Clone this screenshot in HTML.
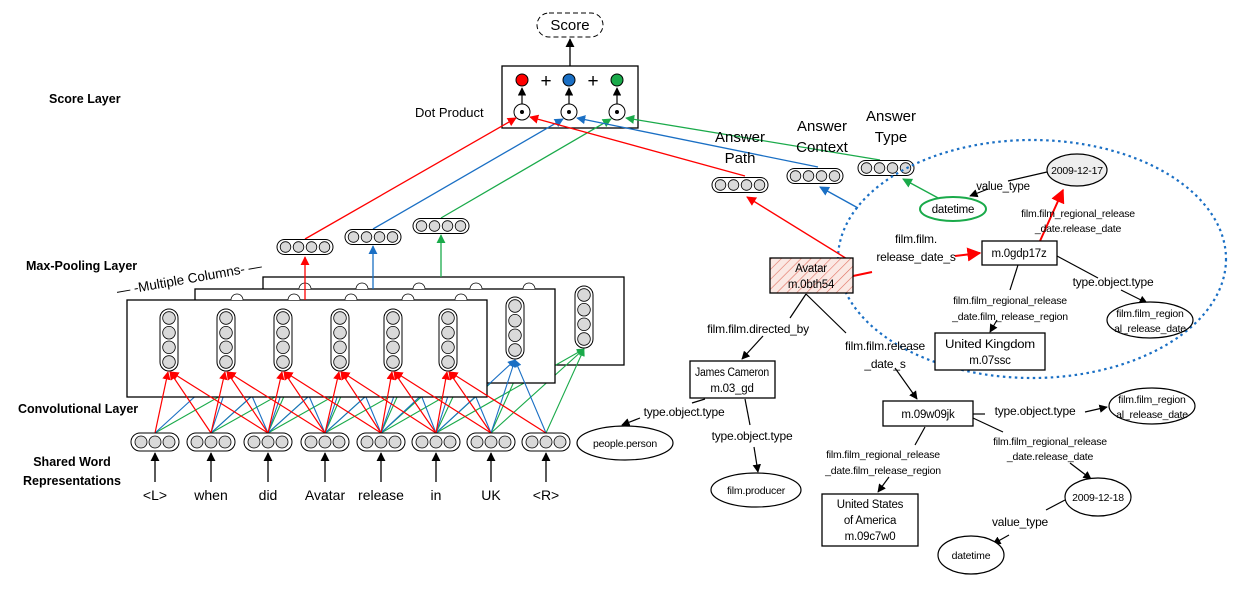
<!DOCTYPE html>
<html><head><meta charset="utf-8"><style>
html,body{margin:0;padding:0;background:#fff;}
svg{display:block;font-family:"Liberation Sans",sans-serif;}
.b{font-weight:bold;font-size:12.5px;}
.t{font-size:13px;}
.s{font-size:10.5px;letter-spacing:-0.2px;}
.m{font-size:11.5px;letter-spacing:-0.2px;}
.l{font-size:12px;letter-spacing:-0.2px;}
</style></head><body>
<svg width="1242" height="593" viewBox="0 0 1242 593" xmlns="http://www.w3.org/2000/svg">
<defs>
<marker id="ak" viewBox="0 0 10 10" refX="9" refY="5" markerWidth="7" markerHeight="7" orient="auto-start-reverse"><path d="M0,0L10,5L0,10z" fill="#000"/></marker>
<marker id="ar" viewBox="0 0 10 10" refX="9" refY="5" markerWidth="7" markerHeight="7" orient="auto"><path d="M0,0L10,5L0,10z" fill="#f00"/></marker>
<marker id="ab" viewBox="0 0 10 10" refX="9" refY="5" markerWidth="7" markerHeight="7" orient="auto"><path d="M0,0L10,5L0,10z" fill="#1a6fc4"/></marker>
<marker id="ag" viewBox="0 0 10 10" refX="9" refY="5" markerWidth="7" markerHeight="7" orient="auto"><path d="M0,0L10,5L0,10z" fill="#1aaa4a"/></marker>
<g id="h4"><rect x="-28" y="-7.5" width="56" height="15" rx="7.5" fill="#fff" stroke="#000" stroke-width="1"/><circle cx="-19.5" r="5.3" fill="#d9d9d9" stroke="#000" stroke-width=".8"/><circle cx="-6.5" r="5.3" fill="#d9d9d9" stroke="#000" stroke-width=".8"/><circle cx="6.5" r="5.3" fill="#d9d9d9" stroke="#000" stroke-width=".8"/><circle cx="19.5" r="5.3" fill="#d9d9d9" stroke="#000" stroke-width=".8"/></g>
<g id="h3"><rect x="-24" y="-9" width="48" height="18" rx="9" fill="#fff" stroke="#000" stroke-width="1"/><circle cx="-14" r="6" fill="#d9d9d9" stroke="#000" stroke-width=".8"/><circle cx="0" r="6" fill="#d9d9d9" stroke="#000" stroke-width=".8"/><circle cx="14" r="6" fill="#d9d9d9" stroke="#000" stroke-width=".8"/></g>
<g id="v4"><rect x="-9" y="-31" width="18" height="62" rx="9" fill="#fff" stroke="#000" stroke-width="1"/><circle cy="-22" r="6.3" fill="#d9d9d9" stroke="#000" stroke-width=".8"/><circle cy="-7.3" r="6.3" fill="#d9d9d9" stroke="#000" stroke-width=".8"/><circle cy="7.3" r="6.3" fill="#d9d9d9" stroke="#000" stroke-width=".8"/><circle cy="22" r="6.3" fill="#d9d9d9" stroke="#000" stroke-width=".8"/></g>
<pattern id="hatch" width="7" height="7" patternUnits="userSpaceOnUse" patternTransform="rotate(45)"><rect width="7" height="7" fill="#fbe9e4"/><line x1="0" y1="0" x2="0" y2="7" stroke="#e07060" stroke-width="1.2"/></pattern>
</defs>

<!-- Score -->
<rect x="537" y="13" width="66" height="24" rx="12" fill="#fff" stroke="#000" stroke-dasharray="5,3"/>
<text x="570" y="30" text-anchor="middle" style="font-size:15px">Score</text>
<line x1="570" y1="66" x2="570" y2="39" stroke="#000" stroke-width="1.3" marker-end="url(#ak)"/>
<rect x="502" y="66" width="136" height="62" fill="#fff" stroke="#000" stroke-width="1.3"/>
<circle cx="522" cy="80" r="6" fill="#f00" stroke="#000"/>
<circle cx="569" cy="80" r="6" fill="#1a6fc4" stroke="#000"/>
<circle cx="617" cy="80" r="6" fill="#1aaa4a" stroke="#000"/>
<text x="546" y="87" text-anchor="middle" style="font-size:19px">+</text>
<text x="593" y="87" text-anchor="middle" style="font-size:19px">+</text>
<g fill="#fff" stroke="#000">
<circle cx="522" cy="112" r="8"/><circle cx="569" cy="112" r="8"/><circle cx="617" cy="112" r="8"/></g>
<circle cx="522" cy="112" r="2" fill="#000"/><circle cx="569" cy="112" r="2" fill="#000"/><circle cx="617" cy="112" r="2" fill="#000"/>
<g stroke="#000" stroke-width="1.2"><line x1="522" y1="104" x2="522" y2="88" marker-end="url(#ak)"/><line x1="569" y1="104" x2="569" y2="88" marker-end="url(#ak)"/><line x1="617" y1="104" x2="617" y2="88" marker-end="url(#ak)"/></g>
<text x="415" y="117" class="t">Dot Product</text>

<text x="49" y="103" class="b">Score Layer</text>
<text x="26" y="270" class="b">Max-Pooling Layer</text>
<text x="18" y="413" class="b">Convolutional Layer</text>
<text x="72" y="466" class="b" text-anchor="middle">Shared Word</text>
<text x="72" y="485" class="b" text-anchor="middle">Representations</text>
<text x="190" y="283" text-anchor="middle" transform="rotate(-10 190 283)" style="font-size:13.5px">— -Multiple Columns- —</text>

<!-- lines to dot product -->
<g stroke-width="1.3" fill="none">
<line x1="305" y1="239" x2="516" y2="118" stroke="#f00" marker-end="url(#ar)"/>
<line x1="373" y1="229" x2="563" y2="119" stroke="#1a6fc4" marker-end="url(#ab)"/>
<line x1="441" y1="218" x2="611" y2="119" stroke="#1aaa4a" marker-end="url(#ag)"/>
<line x1="745" y1="176" x2="530" y2="117" stroke="#f00" marker-end="url(#ar)"/>
<line x1="818" y1="167" x2="577" y2="118" stroke="#1a6fc4" marker-end="url(#ab)"/>
<line x1="880" y1="160" x2="626" y2="118" stroke="#1aaa4a" marker-end="url(#ag)"/>
</g>
<use href="#h4" x="305" y="247"/>
<use href="#h4" x="373" y="237"/>
<use href="#h4" x="441" y="226"/>

<!-- back frame -->
<rect x="263" y="277" width="361" height="88" fill="#fff" stroke="#000" stroke-width="1.3"/>
<g stroke="#1aaa4a" stroke-width="1.1">
<line x1="155" y1="433" x2="305" y2="348"/><line x1="211" y1="433" x2="305" y2="348"/><line x1="268" y1="433" x2="305" y2="348"/>
<line x1="211" y1="433" x2="362" y2="348"/><line x1="268" y1="433" x2="362" y2="348"/><line x1="325" y1="433" x2="362" y2="348"/>
<line x1="268" y1="433" x2="419" y2="348"/><line x1="325" y1="433" x2="419" y2="348"/><line x1="381" y1="433" x2="419" y2="348"/>
<line x1="325" y1="433" x2="476" y2="348"/><line x1="381" y1="433" x2="476" y2="348"/><line x1="436" y1="433" x2="476" y2="348"/>
<line x1="381" y1="433" x2="529" y2="348"/><line x1="436" y1="433" x2="529" y2="348"/><line x1="491" y1="433" x2="529" y2="348"/>
<line x1="436" y1="433" x2="584" y2="349" marker-end="url(#ag)"/><line x1="491" y1="433" x2="584" y2="349" marker-end="url(#ag)"/><line x1="546" y1="433" x2="584" y2="349" marker-end="url(#ag)"/>
</g>
<use href="#v4" x="584" y="317"/>
<line x1="441" y1="277" x2="441" y2="235" stroke="#1aaa4a" stroke-width="1.3" marker-end="url(#ag)"/>

<!-- middle frame -->
<rect x="195" y="289" width="360" height="94" fill="#fff" stroke="#000" stroke-width="1.3"/>
<g fill="#fff" stroke="#000" stroke-width=".8"><path d="M299,289a6,6 0 0 1 12,0"/><path d="M356,289a6,6 0 0 1 12,0"/><path d="M413,289a6,6 0 0 1 12,0"/><path d="M470,289a6,6 0 0 1 12,0"/><path d="M523,289a6,6 0 0 1 12,0"/></g>
<g stroke="#1a6fc4" stroke-width="1.1">
<line x1="155" y1="433" x2="236" y2="359"/><line x1="211" y1="433" x2="236" y2="359"/><line x1="268" y1="433" x2="236" y2="359"/>
<line x1="211" y1="433" x2="293" y2="359"/><line x1="268" y1="433" x2="293" y2="359"/><line x1="325" y1="433" x2="293" y2="359"/>
<line x1="268" y1="433" x2="350" y2="359"/><line x1="325" y1="433" x2="350" y2="359"/><line x1="381" y1="433" x2="350" y2="359"/>
<line x1="325" y1="433" x2="407" y2="359"/><line x1="381" y1="433" x2="407" y2="359"/><line x1="436" y1="433" x2="407" y2="359"/>
<line x1="381" y1="433" x2="460" y2="359"/><line x1="436" y1="433" x2="460" y2="359"/><line x1="491" y1="433" x2="460" y2="359"/>
<line x1="436" y1="433" x2="515" y2="360" marker-end="url(#ab)"/><line x1="491" y1="433" x2="515" y2="360" marker-end="url(#ab)"/><line x1="546" y1="433" x2="515" y2="360" marker-end="url(#ab)"/>
</g>
<use href="#v4" x="515" y="328"/>
<line x1="373" y1="289" x2="373" y2="246" stroke="#1a6fc4" stroke-width="1.3" marker-end="url(#ab)"/>

<!-- front frame -->
<rect x="127" y="300" width="360" height="97" fill="#fff" stroke="#000" stroke-width="1.3"/>
<g fill="#fff" stroke="#000" stroke-width=".8"><path d="M231,300a6,6 0 0 1 12,0"/><path d="M288,300a6,6 0 0 1 12,0"/><path d="M345,300a6,6 0 0 1 12,0"/><path d="M402,300a6,6 0 0 1 12,0"/><path d="M455,300a6,6 0 0 1 12,0"/></g>
<use href="#v4" x="169" y="340"/><use href="#v4" x="226" y="340"/><use href="#v4" x="283" y="340"/>
<use href="#v4" x="340" y="340"/><use href="#v4" x="393" y="340"/><use href="#v4" x="448" y="340"/>
<line x1="305" y1="300" x2="305" y2="257" stroke="#f00" stroke-width="1.3" marker-end="url(#ar)"/>
<g stroke="#f00" stroke-width="1.2">
<line x1="155" y1="433" x2="168" y2="372" marker-end="url(#ar)"/><line x1="211" y1="433" x2="170" y2="372" marker-end="url(#ar)"/><line x1="268" y1="433" x2="171" y2="372" marker-end="url(#ar)"/>
<line x1="211" y1="433" x2="225" y2="372" marker-end="url(#ar)"/><line x1="268" y1="433" x2="227" y2="372" marker-end="url(#ar)"/><line x1="325" y1="433" x2="228" y2="372" marker-end="url(#ar)"/>
<line x1="268" y1="433" x2="282" y2="372" marker-end="url(#ar)"/><line x1="325" y1="433" x2="284" y2="372" marker-end="url(#ar)"/><line x1="381" y1="433" x2="285" y2="372" marker-end="url(#ar)"/>
<line x1="325" y1="433" x2="339" y2="372" marker-end="url(#ar)"/><line x1="381" y1="433" x2="341" y2="372" marker-end="url(#ar)"/><line x1="436" y1="433" x2="342" y2="372" marker-end="url(#ar)"/>
<line x1="381" y1="433" x2="392" y2="372" marker-end="url(#ar)"/><line x1="436" y1="433" x2="394" y2="372" marker-end="url(#ar)"/><line x1="491" y1="433" x2="395" y2="372" marker-end="url(#ar)"/>
<line x1="436" y1="433" x2="447" y2="372" marker-end="url(#ar)"/><line x1="491" y1="433" x2="449" y2="372" marker-end="url(#ar)"/><line x1="546" y1="433" x2="450" y2="372" marker-end="url(#ar)"/>
</g>

<!-- word vectors -->
<use href="#h3" x="155" y="442"/><use href="#h3" x="211" y="442"/><use href="#h3" x="268" y="442"/><use href="#h3" x="325" y="442"/>
<use href="#h3" x="381" y="442"/><use href="#h3" x="436" y="442"/><use href="#h3" x="491" y="442"/><use href="#h3" x="546" y="442"/>
<g stroke="#000" stroke-width="1.3">
<line x1="155" y1="482" x2="155" y2="453" marker-end="url(#ak)"/><line x1="211" y1="482" x2="211" y2="453" marker-end="url(#ak)"/>
<line x1="268" y1="482" x2="268" y2="453" marker-end="url(#ak)"/><line x1="325" y1="482" x2="325" y2="453" marker-end="url(#ak)"/>
<line x1="381" y1="482" x2="381" y2="453" marker-end="url(#ak)"/><line x1="436" y1="482" x2="436" y2="453" marker-end="url(#ak)"/>
<line x1="491" y1="482" x2="491" y2="453" marker-end="url(#ak)"/><line x1="546" y1="482" x2="546" y2="453" marker-end="url(#ak)"/>
</g>
<g style="font-size:14px" text-anchor="middle">
<text x="155" y="500">&lt;L&gt;</text><text x="211" y="500">when</text><text x="268" y="500">did</text><text x="325" y="500">Avatar</text>
<text x="381" y="500">release</text><text x="436" y="500">in</text><text x="491" y="500">UK</text><text x="546" y="500">&lt;R&gt;</text></g>

<!-- answer vectors -->
<g style="font-size:15px" text-anchor="middle">
<text x="740" y="142">Answer</text><text x="740" y="163">Path</text>
<text x="822" y="131">Answer</text><text x="822" y="152">Context</text>
<text x="891" y="121">Answer</text><text x="891" y="142">Type</text></g>
<use href="#h4" x="740" y="185"/>
<use href="#h4" x="815" y="176"/>
<use href="#h4" x="886" y="168"/>

<!-- dashed ellipse -->
<ellipse cx="1032" cy="259" rx="194" ry="119" fill="none" stroke="#1a6fc4" stroke-width="2.2" stroke-dasharray="2.5,3.5"/>

<!-- KB graph -->
<g stroke-width="1.4" fill="none">
<line x1="852" y1="262" x2="747" y2="197" stroke="#f00" marker-end="url(#ar)"/>
<line x1="858" y1="208" x2="820" y2="187" stroke="#1a6fc4" marker-end="url(#ab)"/>
<line x1="940" y1="199" x2="903" y2="179" stroke="#1aaa4a" marker-end="url(#ag)"/>
<line x1="853" y1="276" x2="872" y2="272" stroke="#f00" stroke-width="2"/>
<line x1="955" y1="256" x2="980" y2="253" stroke="#f00" stroke-width="2" marker-end="url(#ar)"/>
<line x1="1040" y1="241" x2="1063" y2="190" stroke="#f00" stroke-width="2" marker-end="url(#ar)"/>
</g>
<g stroke="#000" stroke-width="1.2" fill="none">
<line x1="1047" y1="172" x2="1008" y2="181"/>
<line x1="988" y1="189" x2="970" y2="196" marker-end="url(#ak)"/>
<line x1="1057" y1="256" x2="1098" y2="278"/>
<line x1="1121" y1="290" x2="1147" y2="303" marker-end="url(#ak)"/>
<line x1="1018" y1="265" x2="1010" y2="290"/>
<line x1="997" y1="320" x2="990" y2="332" marker-end="url(#ak)"/>
<line x1="806" y1="294" x2="790" y2="318"/>
<line x1="763" y1="336" x2="742" y2="359" marker-end="url(#ak)"/>
<line x1="806" y1="294" x2="846" y2="333"/>
<line x1="895" y1="368" x2="917" y2="399" marker-end="url(#ak)"/>
<line x1="705" y1="399" x2="692" y2="403"/>
<line x1="640" y1="418" x2="622" y2="425" marker-end="url(#ak)"/>
<line x1="745" y1="399" x2="750" y2="425"/>
<line x1="754" y1="447" x2="758" y2="472" marker-end="url(#ak)"/>
<line x1="973" y1="414" x2="985" y2="414"/>
<line x1="1085" y1="412" x2="1107" y2="407" marker-end="url(#ak)"/>
<line x1="973" y1="418" x2="1003" y2="432"/>
<line x1="1070" y1="463" x2="1091" y2="479" marker-end="url(#ak)"/>
<line x1="925" y1="427" x2="915" y2="445"/>
<line x1="889" y1="477" x2="878" y2="492" marker-end="url(#ak)"/>
<line x1="1065" y1="500" x2="1046" y2="510"/>
<line x1="1009" y1="535" x2="993" y2="544" marker-end="url(#ak)"/>
</g>

<ellipse cx="1077" cy="170" rx="30" ry="16" fill="#eee" stroke="#000" stroke-width="1.2"/>
<text x="1077" y="174" text-anchor="middle" class="s">2009-12-17</text>
<text x="1003" y="190" text-anchor="middle" class="m">value_type</text>
<ellipse cx="953" cy="209" rx="33" ry="12" fill="#fff" stroke="#1aaa4a" stroke-width="2"/>
<text x="953" y="213" text-anchor="middle" class="m">datetime</text>
<text x="1078" y="217" text-anchor="middle" class="s">film.film_regional_release</text>
<text x="1078" y="232" text-anchor="middle" class="s">_date.release_date</text>
<text x="916" y="243" text-anchor="middle" class="l">film.film.</text>
<text x="916" y="261" text-anchor="middle" class="l">release_date_s</text>
<rect x="982" y="241" width="75" height="24" fill="#fff" stroke="#000" stroke-width="1.3"/>
<text x="1019" y="257" text-anchor="middle" class="m">m.0gdp17z</text>
<rect x="770" y="258" width="83" height="35" fill="url(#hatch)" stroke="#000" stroke-width="1.3"/>
<text x="811" y="272" text-anchor="middle" class="m">Avatar</text>
<text x="811" y="288" text-anchor="middle" class="m">m.0bth54</text>
<text x="1113" y="286" text-anchor="middle" class="l">type.object.type</text>
<ellipse cx="1150" cy="320" rx="43" ry="18" fill="#fff" stroke="#000" stroke-width="1.2"/>
<text x="1150" y="317" text-anchor="middle" class="s">film.film_region</text>
<text x="1150" y="332" text-anchor="middle" class="s">al_release_date</text>
<text x="1010" y="304" text-anchor="middle" class="s">film.film_regional_release</text>
<text x="1010" y="320" text-anchor="middle" class="s">_date.film_release_region</text>
<rect x="935" y="333" width="110" height="37" fill="#fff" stroke="#000" stroke-width="1.3"/>
<text x="990" y="348" text-anchor="middle" class="m" textLength="90" lengthAdjust="spacingAndGlyphs">United Kingdom</text>
<text x="990" y="364" text-anchor="middle" class="m">m.07ssc</text>
<text x="758" y="333" text-anchor="middle" class="l">film.film.directed_by</text>
<text x="885" y="350" text-anchor="middle" class="l">film.film.release</text>
<text x="885" y="368" text-anchor="middle" class="l">_date_s</text>
<rect x="690" y="361" width="85" height="37" fill="#fff" stroke="#000" stroke-width="1.3"/>
<text x="732" y="376" text-anchor="middle" class="m" textLength="74" lengthAdjust="spacingAndGlyphs">James Cameron</text>
<text x="732" y="392" text-anchor="middle" class="m">m.03_gd</text>
<text x="684" y="416" text-anchor="middle" class="l">type.object.type</text>
<ellipse cx="625" cy="443" rx="48" ry="17" fill="#fff" stroke="#000" stroke-width="1.2"/>
<text x="625" y="447" text-anchor="middle" class="s">people.person</text>
<text x="752" y="440" text-anchor="middle" class="l">type.object.type</text>
<ellipse cx="756" cy="490" rx="45" ry="17" fill="#fff" stroke="#000" stroke-width="1.2"/>
<text x="756" y="494" text-anchor="middle" class="s">film.producer</text>
<rect x="883" y="401" width="90" height="25" fill="#fff" stroke="#000" stroke-width="1.3"/>
<text x="928" y="418" text-anchor="middle" class="m">m.09w09jk</text>
<text x="1035" y="415" text-anchor="middle" class="l">type.object.type</text>
<ellipse cx="1152" cy="406" rx="43" ry="18" fill="#fff" stroke="#000" stroke-width="1.2"/>
<text x="1152" y="403" text-anchor="middle" class="s">film.film_region</text>
<text x="1152" y="418" text-anchor="middle" class="s">al_release_date</text>
<text x="1050" y="445" text-anchor="middle" class="s">film.film_regional_release</text>
<text x="1050" y="460" text-anchor="middle" class="s">_date.release_date</text>
<ellipse cx="1098" cy="497" rx="33" ry="19" fill="#fff" stroke="#000" stroke-width="1.2"/>
<text x="1098" y="501" text-anchor="middle" class="s">2009-12-18</text>
<text x="1020" y="526" text-anchor="middle" class="l">value_type</text>
<ellipse cx="971" cy="555" rx="33" ry="19" fill="#fff" stroke="#000" stroke-width="1.2"/>
<text x="971" y="559" text-anchor="middle" class="s">datetime</text>
<text x="883" y="458" text-anchor="middle" class="s">film.film_regional_release</text>
<text x="883" y="474" text-anchor="middle" class="s">_date.film_release_region</text>
<rect x="822" y="494" width="96" height="52" fill="#fff" stroke="#000" stroke-width="1.3"/>
<text x="870" y="508" text-anchor="middle" class="m">United States</text>
<text x="870" y="524" text-anchor="middle" class="m">of America</text>
<text x="870" y="540" text-anchor="middle" class="m">m.09c7w0</text>
</svg>
</body></html>
